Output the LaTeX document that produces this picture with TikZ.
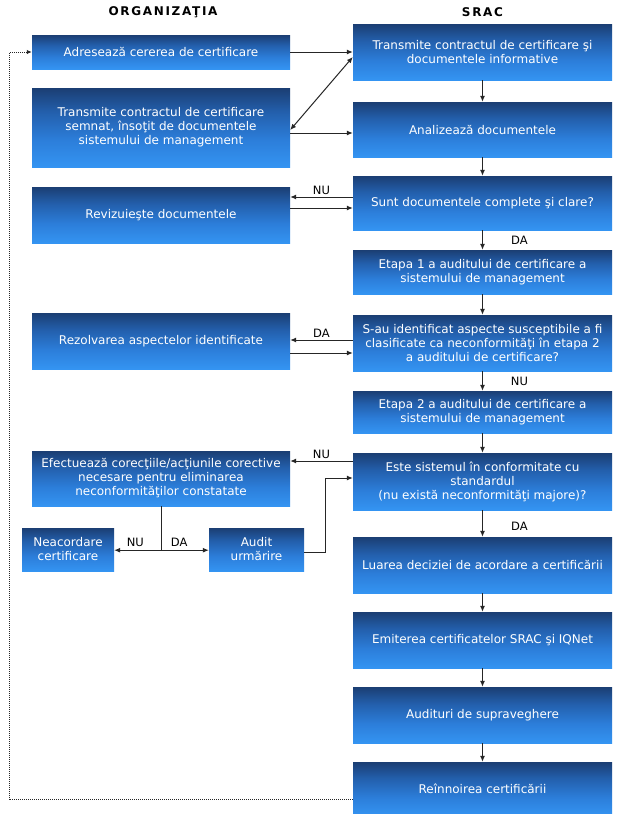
\documentclass[tikz,border=0pt]{standalone}
\usepackage{fontspec}
\setmainfont{DejaVu Sans}
\newfontfamily\titlefont[LetterSpace=14]{DejaVu Sans}
\usetikzlibrary{arrows.meta}
\definecolor{bA}{RGB}{27,62,115}
\definecolor{bB}{RGB}{35,95,172}
\definecolor{bC}{RGB}{44,126,218}
\definecolor{bD}{RGB}{52,148,242}
\pgfdeclareverticalshading{boxshade}{100bp}{color(0bp)=(bD); color(25bp)=(bD); color(42bp)=(bC); color(60bp)=(bB); color(75bp)=(bA); color(100bp)=(bA)}
\newcommand\boxfont{\fontsize{12}{14}\selectfont}
\newcommand\labfont{\fontsize{11.5}{13}\selectfont}
\begin{document}
\begin{tikzpicture}[x=1pt,y=-1pt,
  box/.style={shading=boxshade, inner sep=0pt, text=white, align=center, font=\boxfont, minimum width=258pt},
  lab/.style={font=\labfont, text=black, inner sep=0pt},
  ttl/.style={font=\titlefont\bfseries\fontsize{12}{14}\selectfont, text=black, inner sep=0pt},
  arr/.style={-{Latex[length=6pt,width=5pt]}, line width=1pt, draw=black!85},
  con/.style={line width=1pt, draw=black!85}]
\fill[white] (0,0) rectangle (624,814);
\useasboundingbox (0,0) rectangle (624,814);
% titles
\node[ttl] (t1) at (163,12) {ORGANIZAŢIA};
\node[ttl] (t2) at (482.5,12) {SRAC};
% left column
\node[box, minimum height=34pt] (A) at (161,52) {Adresează cererea de certificare};
\node[box, minimum height=79pt] (B) at (161,127.5) {Transmite contractul de certificare\\semnat, însoţit de documentele\\sistemului de management};
\node[box, minimum height=56pt] (F) at (161,215) {Revizuieşte documentele};
\node[box, minimum height=56pt] (I) at (161,341) {Rezolvarea aspectelor identificate};
\node[box, minimum height=55pt] (L) at (161,478.5) {Efectuează corecţiile/acţiunile corective\\necesare pentru eliminarea\\neconformităţilor constatate};
\node[box, minimum width=92pt, minimum height=43pt] (Ne) at (68,549.5) {Neacordare\\certificare};
\node[box, minimum width=95pt, minimum height=43pt] (Au) at (256.5,549.5) {Audit\\urmărire};
% right column
\node[box, minimum width=259pt, minimum height=56pt] (C) at (482.5,52) {Transmite contractul de certificare şi\\documentele informative};
\node[box, minimum width=259pt, minimum height=55pt] (D) at (482.5,129.5) {Analizează documentele};
\node[box, minimum width=259pt, minimum height=54pt] (E) at (482.5,203) {Sunt documentele complete şi clare?};
\node[box, minimum width=259pt, minimum height=44pt] (G) at (482.5,272) {Etapa 1 a auditului de certificare a\\sistemului de management};
\node[box, minimum width=259pt, minimum height=56pt] (H) at (482.5,343) {S-au identificat aspecte susceptibile a fi\\clasificate ca neconformităţi în etapa 2\\a auditului de certificare?};
\node[box, minimum width=259pt, minimum height=42pt] (J) at (482.5,412) {Etapa 2 a auditului de certificare a\\sistemului de management};
\node[box, minimum width=259pt, minimum height=57pt] (K) at (482.5,481.5) {Este sistemul în conformitate cu\\standardul\\(nu există neconformităţi majore)?};
\node[box, minimum width=259pt, minimum height=56pt] (M) at (482.5,565) {Luarea deciziei de acordare a certificării};
\node[box, minimum width=259pt, minimum height=56pt] (N) at (482.5,640) {Emiterea certificatelor SRAC şi IQNet};
\node[box, minimum width=259pt, minimum height=56pt] (O) at (482.5,715) {Audituri de supraveghere};
\node[box, minimum width=259pt, minimum height=54pt] (P) at (482.5,789) {Reînnoirea certificării};
% connectors
\draw[arr] (A.east) -- (A.east -| C.west);
\draw[arr, {Latex[length=6pt,width=5pt]}-{Latex[length=6pt,width=5pt]}] ([yshift=-2.5pt]B.east) -- ([yshift=-5pt]C.west);
\draw[arr] ([yshift=-5.5pt]B.east) -- ([yshift=-5.5pt]B.east -| D.west);
\draw[arr] (C.south) -- (D.north);
\draw[arr] (D.south) -- (E.north);
\draw[arr] ([yshift=6pt]E.west) -- ([yshift=6pt]E.west -| F.east) node[lab, midway, above=2pt] {NU};
\draw[arr] ([yshift=-5pt]E.west -| F.east) -- ([yshift=-5pt]E.west);
\draw[arr] (E.south) -- (G.north) node[lab, midway, xshift=37pt] {DA};
\draw[arr] (G.south) -- (H.north);
\draw[arr] ([yshift=3pt]H.west) -- ([yshift=3pt]H.west -| I.east) node[lab, midway, above=2pt] {DA};
\draw[arr] ([yshift=-10pt]H.west -| I.east) -- ([yshift=-10pt]H.west);
\draw[arr] (H.south) -- (J.north) node[lab, midway, xshift=37pt] {NU};
\draw[arr] (J.south) -- (K.north);
\draw[arr] ([yshift=20.5pt]K.west) -- ([yshift=20.5pt]K.west -| L.east) node[lab, midway, above=2pt] {NU};
\draw[arr] ([yshift=-2.5pt]Au.east) -- ++(21,0) |- ([yshift=3.5pt]K.west);
\draw[con] (L.south) -- ++(0,44) coordinate (br);
\draw[arr] (br) -- (br -| Ne.east) node[lab, pos=0.55, above=3pt] {NU};
\draw[arr] (br) -- (br -| Au.west) node[lab, pos=0.38, above=3pt] {DA};
\draw[arr] (K.south) -- (M.north) node[lab, midway, xshift=37pt, yshift=-3pt] {DA};
\draw[arr] (M.south) -- (N.north);
\draw[arr] (N.south) -- (O.north);
\draw[arr] (O.south) -- (P.north);
\draw[densely dotted, line width=1pt, draw=black!85, -{Latex[length=5pt,width=4.5pt]}] ([yshift=-10pt]P.west) -- ++(-343,0) |- (A.west);
\end{tikzpicture}
\end{document}
